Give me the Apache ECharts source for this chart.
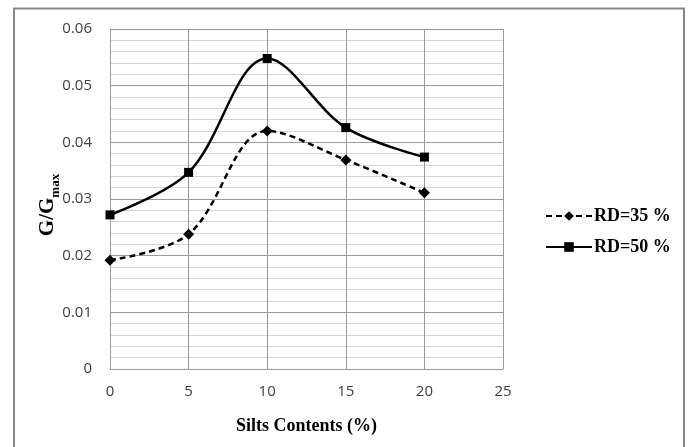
<!DOCTYPE html>
<html>
<head>
<meta charset="utf-8">
<script src="https://cdn.jsdelivr.net/npm/echarts@6/dist/echarts.min.js"></script>
<style>
  html, body { margin: 0; padding: 0; background: #fff; }
  #chart { width: 688px; height: 447px; }
</style>
</head>
<body>
<div id="chart"></div>
<script>
// Silt content (%) on the x axis
const siltContent = [0, 5, 10, 15, 20];
// Normalised shear modulus G/Gmax for two relative densities
const rd35 = [0.0192, 0.0238, 0.0420, 0.0369, 0.0311];
const rd50 = [0.0272, 0.0347, 0.0548, 0.0426, 0.0374];
const seriesNames = ['RD=35 %', 'RD=50 %'];
const xTicks = [0, 5, 10, 15, 20, 25];
const yTicks = [0, 0.01, 0.02, 0.03, 0.04, 0.05, 0.06];

const pairs = (xs, ys) => xs.map((x, i) => [x, ys[i]]);

const chart = echarts.init(document.getElementById('chart'), null, { renderer: 'canvas' });

const tickFont = { fontFamily: 'Open Sans', fontSize: 15, color: '#404040' };
const boldSerif = { fontFamily: 'Liberation Serif', fontWeight: 'bold', color: '#000' };

chart.setOption({
  animation: false,
  backgroundColor: '#fff',
  grid: { left: 110, right: 185, top: 29, bottom: 78, containLabel: false },
  graphic: [{
    type: 'rect',
    shape: { x: 14, y: 8.5, width: 670, height: 460 },
    style: { fill: 'none', stroke: '#878787', lineWidth: 2 },
    z: -1
  }],
  xAxis: {
    type: 'value',
    min: xTicks[0],
    max: xTicks[xTicks.length - 1],
    interval: 5,
    name: 'Silts Contents (%)',
    nameLocation: 'middle',
    nameGap: 48,
    nameMoveOverlap: false,
    nameTextStyle: Object.assign({ fontSize: 18 }, boldSerif),
    axisLine: { show: true, lineStyle: { color: '#9a9a9a', width: 1 } },
    axisTick: { show: false },
    axisLabel: Object.assign({ margin: 15 }, tickFont),
    splitLine: { show: true, lineStyle: { color: '#9a9a9a', width: 1 } }
  },
  yAxis: {
    type: 'value',
    min: yTicks[0],
    max: yTicks[yTicks.length - 1],
    interval: 0.01,
    name: '{a|G/G}{s|max}',
    nameLocation: 'middle',
    nameRotate: 90,
    nameGap: 52,
    nameMoveOverlap: false,
    nameTextStyle: {
      padding: [0, 12, 0, 0],
      rich: {
        a: Object.assign({ fontSize: 21, verticalAlign: 'bottom', lineHeight: 22 }, boldSerif),
        s: Object.assign({ fontSize: 13, verticalAlign: 'bottom', lineHeight: 14, padding: [0, 0, -4, 0] }, boldSerif)
      }
    },
    axisLine: { show: true, lineStyle: { color: '#9a9a9a', width: 1 } },
    axisTick: { show: false },
    axisLabel: Object.assign({ margin: 18, formatter: v => (v === 0 ? '0' : v.toFixed(2)) }, tickFont),
    splitLine: { show: true, lineStyle: { color: '#9a9a9a', width: 1 } },
    minorTick: { show: false, splitNumber: 5 },
    minorSplitLine: { show: true, lineStyle: { color: '#d4d4d4', width: 1 } }
  },
  legend: {
    orient: 'vertical',
    left: 540,
    top: 202,
    itemWidth: 46,
    itemHeight: 12,
    itemGap: 13,
    textStyle: Object.assign({ fontSize: 18, padding: [0, 0, 0, -3] }, boldSerif),
    data: seriesNames
  },
  series: [
    {
      name: seriesNames[0],
      type: 'line',
      data: pairs(siltContent, rd35),
      smooth: 0.35,
      symbol: 'diamond',
      symbolSize: 11,
      itemStyle: { color: '#000' },
      lineStyle: { color: '#000', width: 2.5, type: [6, 4] }
    },
    {
      name: seriesNames[1],
      type: 'line',
      data: pairs(siltContent, rd50),
      smooth: 0.35,
      symbol: 'rect',
      symbolSize: 9,
      itemStyle: { color: '#000' },
      lineStyle: { color: '#000', width: 2.5, type: 'solid' }
    }
  ]
});
</script>
</body>
</html>
